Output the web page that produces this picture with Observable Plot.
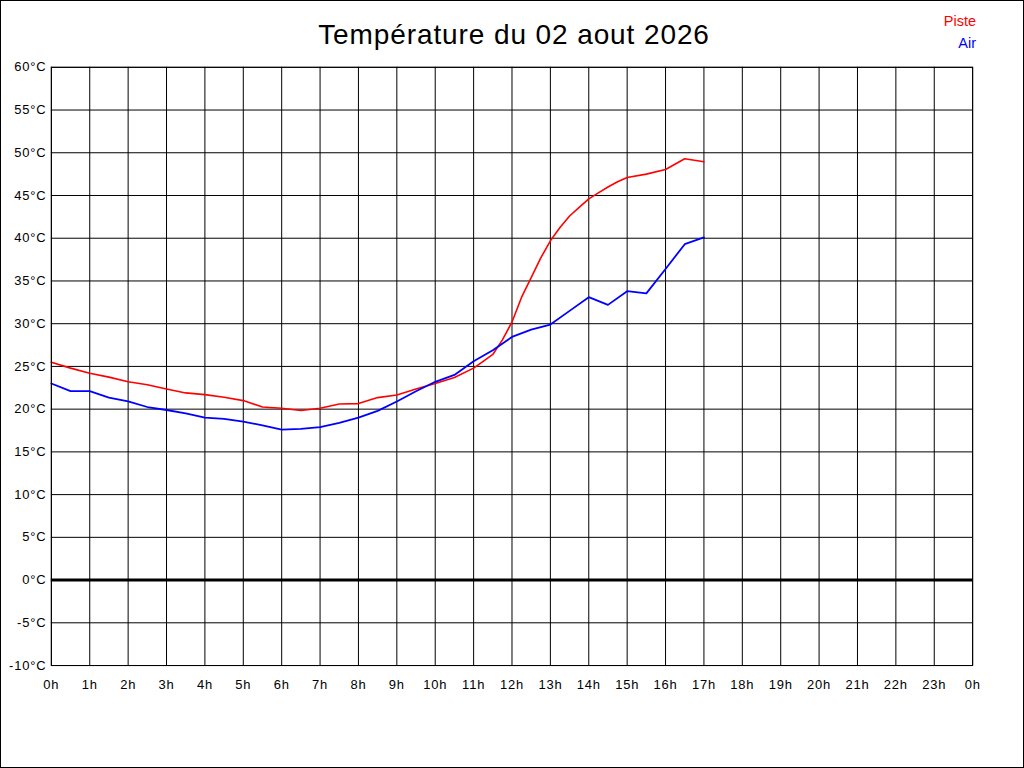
<!DOCTYPE html>
<html>
<head>
<meta charset="utf-8">
<script src="https://cdn.jsdelivr.net/npm/d3@7"></script>
<script src="https://cdn.jsdelivr.net/npm/@observablehq/plot@0.6"></script>
<style>
  html, body { margin: 0; padding: 0; background: #fff; }
  #wrap { position: relative; width: 1024px; height: 768px; box-sizing: border-box; border: 1px solid #000; overflow: hidden; font-family: "Liberation Sans", Arial, sans-serif; }
  #chart { position: absolute; left: -1px; top: -1px; }
  #chart svg text { letter-spacing: 0.8px; }
  #title { position: absolute; left: 0; width: 1026px; top: 18px; text-align: center; font-size: 28px; letter-spacing: 0.9px; color: #000; }
  .leg { position: absolute; right: 47px; font-size: 14.5px; }
</style>
</head>
<body>
<div id="wrap">
  <div id="chart"></div>
  <div id="title">Température du 02 aout 2026</div>
  <div class="leg" style="top:12px;color:#ff0000">Piste</div>
  <div class="leg" style="top:34px;color:#0000ff">Air</div>
</div>
<script>
// Piste (track) temperature, hours and °C
const pisteHours = [0,0.5,1,1.5,2,2.5,3,3.5,4,4.5,5,5.5,6,6.5,7,7.5,8,8.5,9,9.5,10,10.5,11,11.25,11.5,11.75,12,12.25,12.5,12.75,13,13.25,13.5,13.75,14,14.25,14.5,14.75,15,15.5,16,16.5,17];
const pisteTemps = [25.5,24.8,24.2,23.75,23.2,22.85,22.35,21.9,21.7,21.4,21.0,20.25,20.1,19.85,20.1,20.6,20.65,21.35,21.65,22.35,23.0,23.7,24.8,25.6,26.4,28.1,30.2,33.1,35.4,37.7,39.7,41.25,42.6,43.6,44.6,45.3,46.0,46.6,47.1,47.5,48.05,49.3,48.95];
// Air temperature
const airHours = [0,0.5,1,1.5,2,2.5,3,3.5,4,4.5,5,5.5,6,6.5,7,7.5,8,8.5,9,9.5,10,10.5,11,11.5,12,12.5,13,13.5,14,14.5,15,15.5,16,16.5,17];
const airTemps = [23.0,22.1,22.1,21.35,20.9,20.25,19.9,19.5,19.0,18.85,18.55,18.1,17.6,17.7,17.9,18.4,19.0,19.8,20.9,22.1,23.2,24.0,25.6,26.9,28.45,29.3,29.9,31.5,33.1,32.2,33.8,33.55,36.4,39.3,40.1];
// Tick values
const hourTicks = d3.range(0, 25, 1);
const tempTicks = d3.range(-10, 61, 5);

const piste = pisteHours.map((h, i) => ({h, t: pisteTemps[i]}));
const air = airHours.map((h, i) => ({h, t: airTemps[i]}));

const plot = Plot.plot({
  width: 1026,
  height: 770,
  marginLeft: 51,
  marginRight: 51,
  marginTop: 67,
  marginBottom: 103,
  style: {fontFamily: "'Liberation Sans', Arial, sans-serif", fontSize: "13px", color: "#000", background: "transparent"},
  x: {domain: [0, 24], ticks: hourTicks, tickFormat: d => (d % 24) + "h", tickSize: 0, tickPadding: 14, label: null},
  y: {domain: [-10, 60], ticks: tempTicks, tickFormat: d => d + "°C", tickSize: 0, tickPadding: 5, label: null},
  marks: [
    Plot.ruleX(hourTicks, {stroke: "#000", strokeWidth: 1, strokeOpacity: 1}),
    Plot.ruleY(tempTicks, {stroke: "#000", strokeWidth: 1, strokeOpacity: 1}),
    Plot.ruleY([0], {stroke: "#000", strokeWidth: 3}),
    Plot.line(piste, {x: "h", y: "t", stroke: "#ff0000", strokeWidth: 1.6, curve: "linear"}),
    Plot.line(air, {x: "h", y: "t", stroke: "#0000ff", strokeWidth: 1.8, curve: "linear"}),
    Plot.frame({stroke: "#000", strokeWidth: 1})
  ]
});
document.getElementById("chart").appendChild(plot);
</script>
</body>
</html>
